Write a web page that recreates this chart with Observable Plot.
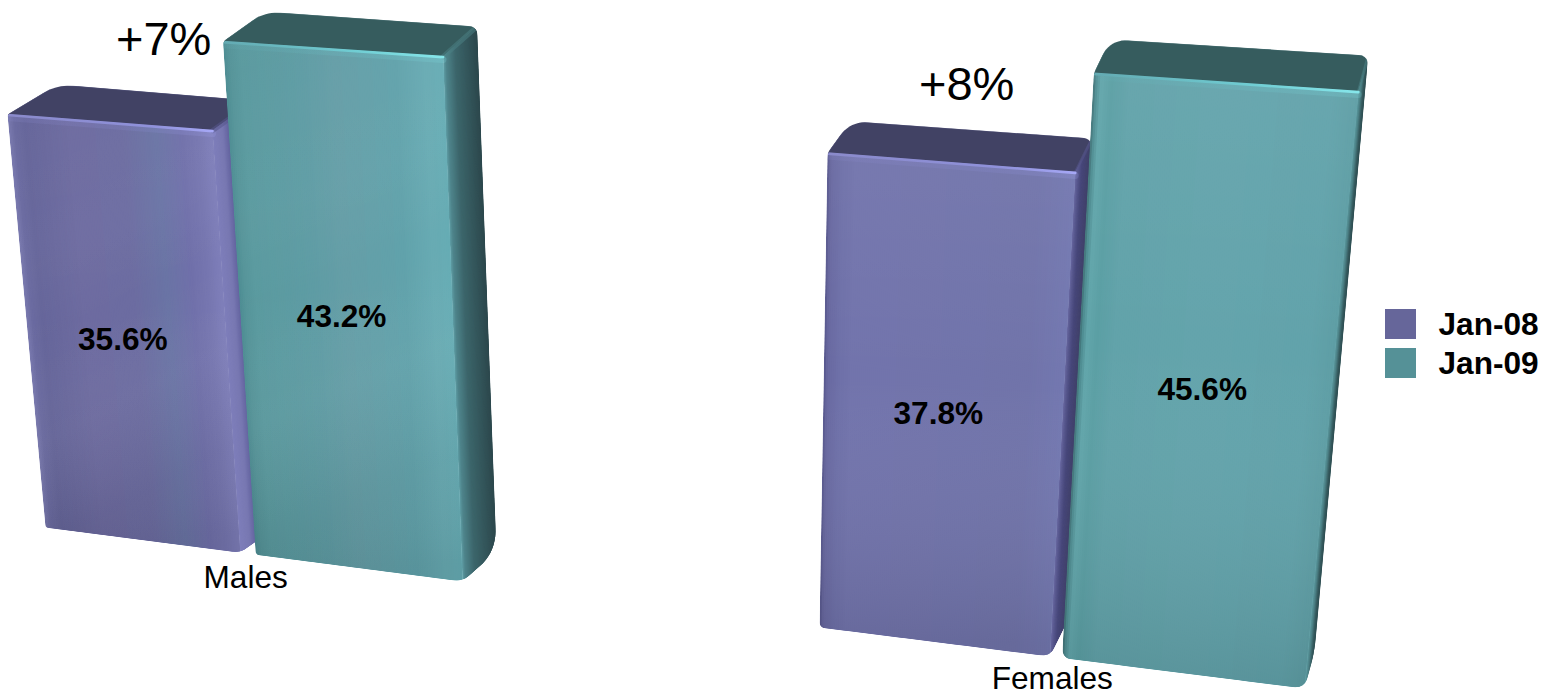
<!DOCTYPE html>
<html>
<head>
<meta charset="utf-8">
<script src="https://cdn.jsdelivr.net/npm/d3@7"></script>
<script src="https://cdn.jsdelivr.net/npm/@observablehq/plot@0.6"></script>
<style>
  html, body { margin: 0; padding: 0; background: #fff; }
  svg { display: block; }
</style>
</head>
<body>
<div id="chart"></div>
<script>
// Values shown on the chart
const categories = ["Males", "Females"];
const seriesNames = ["Jan-08", "Jan-09"];
const jan08 = [35.6, 37.8];
const jan09 = [43.2, 45.6];
const changeLabels = ["+7%", "+8%"];

const WIDTH = 1544, HEIGHT = 692;
const FONT = "'Liberation Sans', Arial, sans-serif";

// Perspective of each group: a bilinear map from (across, value, depth) to the page.
const views = [
  {origin: [45, 527], across: [417, 54], rise0: [-1.07, -11.6], rise1: [-0.45, -12.15],
   depth0: [50, -30], depth1: [-16, 0], changeAt: 0.356, changeLift: -87,
   spans: [[0, 0.467], [0.504, 1]], labelAt: [0.2415, 0.758], labelShift: [-7, 8],
   categoryLift: 24, topSheen: 0.015,
   outline: [{fl: 3, backL: 16, backR: 9, sideBottom: 25, br: 8, bl: 3},
             {fl: 4, backL: 16, backR: 9, sideBottom: 25, br: 10, bl: 4}]},
  {origin: [819, 627], across: [485, 61], rise0: [0.21, -12.55], rise1: [1.18, -13.09],
   depth0: [23, -32], depth1: [-13, -4], changeAt: 0.267, changeLift: -79,
   spans: [[0, 0.475], [0.5, 1]], labelAt: [0.246, 0.763], labelShift: [-9, 11],
   categoryLift: 22, topSheen: 0.04,
   outline: [{fl: 5, backL: 18, backR: 10, sideBottom: 8, br: 10, bl: 6},
             {fl: 6, backL: 18, backR: 10, sideBottom: 18, br: 12, bl: 10}]}
];

// Surface shading across each bar front, left to right
const faceStops = [
  [ // Males
    [[0, "#7878ae"], [0.03, "#6a6aa0"], [0.08, "#65659a"], [0.3, "#6d6ba0"], [0.55, "#6c6ca1"],
     [0.72, "#6a74a5"], [0.85, "#7070aa"], [0.93, "#7676b0"], [1, "#7e7eba"]],
    [[0, "#4c8c92"], [0.03, "#559499"], [0.08, "#5a9a9f"], [0.35, "#5e9ca4"], [0.5, "#659ea7"],
     [0.78, "#61a2ab"], [0.92, "#68abb3"], [1, "#66acb4"]]
  ],
  [ // Females
    [[0, "#55558a"], [0.015, "#6868a0"], [0.06, "#6e70a8"], [0.12, "#7274ac"], [0.85, "#7174aa"],
     [1, "#7378b0"]],
    [[0, "#3f6f74"], [0.012, "#4e8d92"], [0.03, "#62a6ab"], [0.07, "#5b9fa4"], [0.14, "#62a3aa"],
     [0.5, "#64a4ac"], [0.9, "#62a3ab"], [1, "#5e9ea5"]]
  ]
];
// Shading of the right side face, front edge to back edge
const sideShades = [
  [
    [[0, "#7e7eba"], [0.22, "#7878b2"], [0.36, "#6464a0"], [0.48, "#50508a"], [1, "#444470"]],
    [[0, "#5f9fa7"], [0.08, "#4f858c"], [0.35, "#3c666b"], [1, "#2c474c"]]
  ],
  [
    [[0, "#6a6aa2"], [0.15, "#5a5a90"], [0.4, "#47477a"], [1, "#3f3f66"]],
    [[0, "#5b9ba1"], [0.35, "#4a7f84"], [0.7, "#33585c"], [1, "#2a4a4e"]]
  ]
];
const topFill = ["#414264", "#365c5e"];
const topEdge = ["#4c4d74", "#41696c"];
const cornerBevel = ["#55568a", "#4b7f84"];
const highlightStops = [
  [[0, "#8a8acb"], [0.7, "#8f91da"], [1, "#a6a8f6"]],
  [[0, "#63aab2"], [0.6, "#70cdd3"], [1, "#86e6ea"]]
];
const legendColors = ["#66669a", "#559197"];

// Page position of a point on a bar
function place(view, u, value, d = 0) {
  const k = (i) => view.origin[i] + view.across[i] * u
    + value * (view.rise0[i] + (view.rise1[i] - view.rise0[i]) * u)
    + d * (view.depth0[i] + view.depth1[i] * u);
  return [k(0), k(1)];
}

// Replaces each corner of a polygon with a short sampled curve
function roundedOutline(corners) {
  const out = [];
  corners.forEach(({p, r}, i) => {
    const a = corners[(i + corners.length - 1) % corners.length].p;
    const b = corners[(i + 1) % corners.length].p;
    const toward = (q) => {
      const len = Math.hypot(q[0] - p[0], q[1] - p[1]);
      const t = Math.min(r / len, 0.5);
      return [p[0] + (q[0] - p[0]) * t, p[1] + (q[1] - p[1]) * t];
    };
    const s = toward(a), e = toward(b);
    for (let j = 0; j <= 10; j++) {
      const t = j / 10, m = 1 - t;
      out.push([
        m * m * s[0] + 2 * m * t * p[0] + t * t * e[0],
        m * m * s[1] + 2 * m * t * p[1] + t * t * e[1]
      ]);
    }
  });
  return out;
}

const toRows = (points) => points.map(([x, y]) => ({x, y}));
const shadeScale = (stops) => d3.scaleLinear()
  .domain(stops.map((s) => s[0])).range(stops.map((s) => s[1])).interpolate(d3.interpolateRgb);

const gradients = [];
const clips = [];
function addGradient(id, from, to, stops) {
  gradients.push({id, from, to, stops});
  return `url(#${id})`;
}

// Restricts a mark to the rounded silhouette of its bar
const clippedTo = (id) => ({
  render(index, scales, values, dimensions, context, next) {
    const g = next(index, scales, values, dimensions, context);
    g.setAttribute("clip-path", `url(#${id})`);
    return g;
  }
});

// Quads from each step through to the far edge, painted in order, so bands follow
// the perspective and later steps cover the earlier ones without seams
function stripRows(key, count, stops, quad) {
  const shade = shadeScale(stops);
  const rows = [];
  for (let i = 0; i < count; i++) {
    const c = shade((i + 0.5) / count);
    for (const [x, y] of quad(i / count, Math.min(1, (i + 3) / count))) rows.push({x, y, k: `${key}-${i}`, c});
  }
  return rows;
}

const marks = [];
const labels = [];

categories.forEach((category, g) => {
  const view = views[g];
  [jan08[g], jan09[g]].forEach((value, series) => {
    const [u0, u1] = view.spans[series];
    const radii = view.outline[series];
    const id = `${g}-${series}`;
    const fl = place(view, u0, value), fr = place(view, u1, value);
    const bl = place(view, u0, 0), br = place(view, u1, 0);
    const tl = place(view, u0, value, 1), tr = place(view, u1, value, 1);
    const sb = place(view, u1, 0, 1);
    const clip = `clip-${id}`;
    clips.push({id: clip, points: roundedOutline([
      {p: fl, r: radii.fl}, {p: tl, r: radii.backL}, {p: tr, r: radii.backR},
      {p: sb, r: radii.sideBottom}, {p: br, r: radii.br}, {p: bl, r: radii.bl}
    ])});
    const inBar = clippedTo(clip);
    const polygon = {x: "x", y: "y", curve: "linear-closed", stroke: "none", ...inBar};

    // Top face
    marks.push(Plot.line(toRows([fl, tl, tr, fr]), {...polygon, fill: topFill[series], stroke: topEdge[series], strokeWidth: 1.2}));

    // Right side face, shaded from its front edge to its back edge
    marks.push(Plot.line(stripRows(`side-${id}`, 40, sideShades[g][series], (a, b) => [
      place(view, u1, value, a), place(view, u1, value, b), place(view, u1, 0, b), place(view, u1, 0, a)
    ]), {x: "x", y: "y", z: "k", fill: "c", stroke: "none", curve: "linear-closed", ...inBar}));

    // Front face, shaded across its width
    const at = (t) => u0 + (u1 - u0) * t;
    marks.push(Plot.line(stripRows(`front-${id}`, 120, faceStops[g][series], (a, b) => [
      place(view, at(a), value), place(view, at(b), value), place(view, at(b), 0), place(view, at(a), 0)
    ]), {x: "x", y: "y", z: "k", fill: "c", stroke: "none", curve: "linear-closed", ...inBar}));

    // Falloff from top to bottom over the front
    const frontRows = toRows([fl, fr, br, bl]);
    const topMid = place(view, at(0.5), value), baseMid = place(view, at(0.5), 0);
    marks.push(Plot.line(frontRows, {...polygon, fill: addGradient(`fall-${id}`, topMid, baseMid, [
      [0, `rgba(255,255,255,${view.topSheen})`], [0.45, "rgba(255,255,255,0)"], [1, "rgba(0,0,0,0.09)"]
    ])}));

    if (g === 0) {
      // Faint diagonal sheen on the Males bars
      marks.push(Plot.line(frontRows, {...polygon, fill: addGradient(`sheen-${id}`, fl, br, [
        [0, "rgba(255,255,255,0)"], [0.3, "rgba(255,255,255,0.025)"], [0.45, "rgba(255,255,255,0)"],
        [0.62, "rgba(255,255,255,0.02)"], [0.8, "rgba(0,0,0,0.015)"], [1, "rgba(255,255,255,0)"]
      ])}));
    }

    // Bevel rising from the front's top right corner to the back corner
    const cornerEnd = place(view, u1, value, 0.9);
    marks.push(Plot.line(toRows([fr, cornerEnd]), {
      x: "x", y: "y", stroke: cornerBevel[series], strokeWidth: g ? 3 : 5, strokeOpacity: 0.55,
      strokeLinecap: "round", ...inBar
    }));

    // Bright bevel along the front's top edge
    const glintRows = toRows([fl, fr]);
    const glint = addGradient(`glint-${id}`, fl, fr, highlightStops[series]);
    marks.push(Plot.line(glintRows, {x: "x", y: "y", stroke: glint, strokeWidth: 7, strokeOpacity: 0.18, dy: 3, strokeLinecap: "round", ...inBar}));
    marks.push(Plot.line(glintRows, {x: "x", y: "y", stroke: glint, strokeWidth: 2.6, dy: 0.5, strokeLinecap: "round", ...inBar}));

    // Value label on the bar front
    const mid = place(view, view.labelAt[series], value / 2);
    labels.push({x: mid[0] + view.labelShift[0], y: mid[1] + view.labelShift[1], text: `${value.toFixed(1)}%`});
  });
});

const categoryRows = categories.map((name, g) => {
  const at = place(views[g], 0.48, 0);
  return {x: at[0], y: at[1] + views[g].categoryLift, text: name};
});
const changeRows = changeLabels.map((text, g) => {
  const at = place(views[g], views[g].changeAt, jan08[g]);
  return {x: at[0], y: at[1] + views[g].changeLift, text};
});

// Legend block on the right
const legendBox = {x1: 1385, x2: 1416, textX: 1438, rowY: [324, 363], half: 15};
const legendRows = seriesNames.map((name, i) => ({
  name, color: legendColors[i], y: legendBox.rowY[i],
  y1: legendBox.rowY[i] - legendBox.half, y2: legendBox.rowY[i] + legendBox.half
}));

// Gradients and clip shapes shared by the bar faces
const defs = () => {
  const d = d3.create("svg:defs");
  for (const {id, from, to, stops} of gradients) {
    const lg = d.append("linearGradient")
      .attr("id", id).attr("gradientUnits", "userSpaceOnUse")
      .attr("x1", from[0]).attr("y1", from[1]).attr("x2", to[0]).attr("y2", to[1]);
    for (const [o, c] of stops) lg.append("stop").attr("offset", o).attr("stop-color", c);
  }
  for (const {id, points} of clips) {
    d.append("clipPath").attr("id", id).append("path").attr("d", `M${points.join("L")}Z`);
  }
  return d.node();
};

const plot = Plot.plot({
  width: WIDTH,
  height: HEIGHT,
  margin: 0,
  x: {domain: [0, WIDTH], range: [0, WIDTH], axis: null},
  y: {domain: [0, HEIGHT], range: [0, HEIGHT], axis: null},
  color: {type: "identity"},
  style: {fontFamily: FONT, background: "#fff", color: "#000"},
  marks: [
    defs,
    ...marks,
    Plot.text(labels, {x: "x", y: "y", text: "text", fontSize: 31.6, fontWeight: "bold", fill: "#000"}),
    Plot.text(categoryRows, {x: "x", y: "y", text: "text", fontSize: 31.6, fill: "#000"}),
    Plot.text(changeRows, {x: "x", y: "y", text: "text", fontSize: 47, fill: "#000"}),
    Plot.rect(legendRows, {x1: () => legendBox.x1, x2: () => legendBox.x2, y1: "y1", y2: "y2", fill: "color"}),
    Plot.text(legendRows, {x: () => legendBox.textX, y: "y", text: "name", textAnchor: "start", fontSize: 31.6, fontWeight: "bold", fill: "#000"})
  ]
});
document.getElementById("chart").append(plot);
</script>
</body>
</html>
